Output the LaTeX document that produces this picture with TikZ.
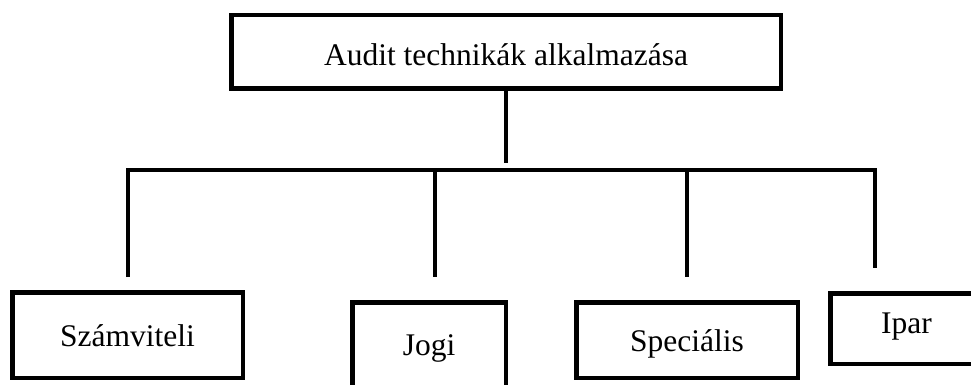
\documentclass[tikz,border=0pt]{standalone}
\usepackage{fontspec}
\setmainfont{Liberation Serif}
\begin{document}
\begin{tikzpicture}[x=1pt,y=-1pt,
  box/.style={draw=black, line width=4.5pt, rectangle, inner sep=0pt,
    font=\fontsize{31.5}{36}\selectfont, text depth=0pt},
  conn/.style={draw=black, line width=4.5pt}]
\useasboundingbox (0,0) rectangle (971,385);
\clip (0,0) rectangle (971,385);
\node[box, minimum width=549.5pt, minimum height=73.5pt, text height=27pt] (top) at (506,52) {Audit technikák alkalmazása};
\node[box, minimum width=230.5pt, minimum height=85.5pt, text height=23.4pt] (szam) at (127.5,335) {Számviteli};
\node[box, minimum width=153.5pt, minimum height=87.5pt, text height=18pt] (jogi) at (429,346) {Jogi};
\node[box, minimum width=221.5pt, minimum height=75.5pt, text height=23.4pt] (spec) at (687,340) {Speciális};
\node[box, minimum width=152.5pt, minimum height=70.5pt, text height=9pt] (ipar) at (906.5,328.5) {Ipar};
\coordinate (stemend) at (506,163);
\coordinate (b1) at (128,170);
\coordinate (b2) at (435,170);
\coordinate (b3) at (687,170);
\coordinate (b4) at (875,170);
\coordinate (d1) at (128,277);
\coordinate (d2) at (435,277);
\coordinate (d3) at (687,277);
\coordinate (d4) at (875,268);
\draw[conn] (top.south) -- (stemend);
\draw[conn] (d1) -- (b1) -- (b4) -- (d4);
\draw[conn] (b2) -- (d2);
\draw[conn] (b3) -- (d3);
\end{tikzpicture}
\end{document}
